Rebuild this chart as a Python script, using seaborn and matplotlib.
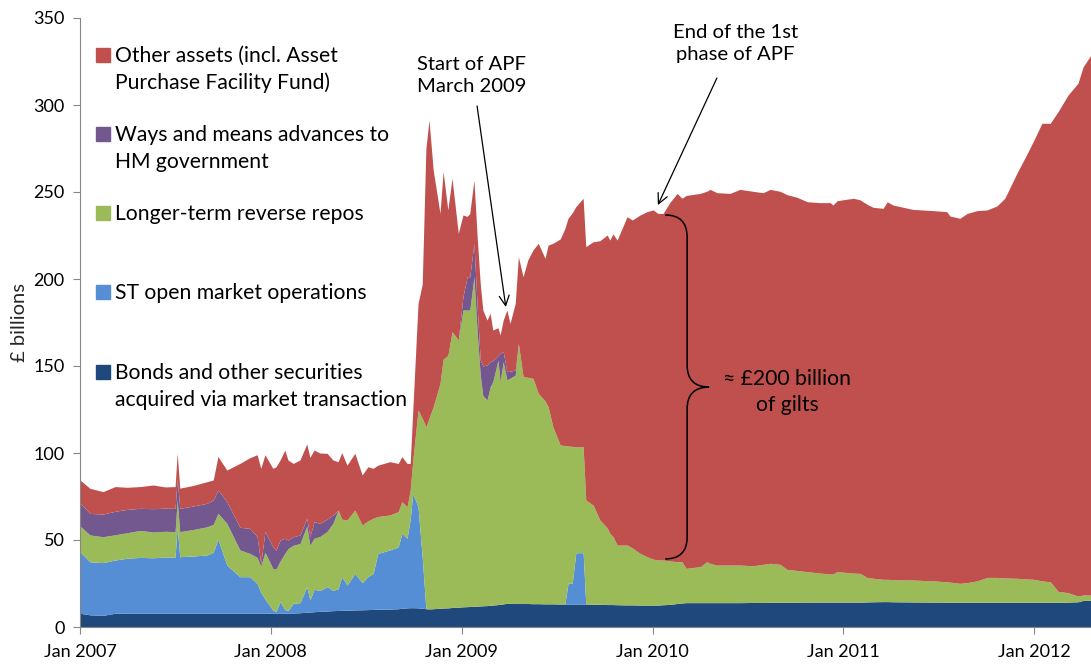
import matplotlib
matplotlib.use("Agg")
import matplotlib.pyplot as plt
import matplotlib.dates as mdates
from matplotlib.path import Path
from matplotlib.patches import PathPatch
import pandas as pd
import seaborn as sns

# weekly-ish balance sheet readings, £ billions
dates = [
    "2007-01-01", "2007-01-20", "2007-02-14", "2007-03-09", "2007-04-01", "2007-04-26", "2007-05-21", "2007-06-13", "2007-07-02", "2007-07-06",
    "2007-07-11", "2007-08-05", "2007-09-01", "2007-09-13", "2007-09-22", "2007-10-09", "2007-11-03", "2007-11-22", "2007-12-06", "2007-12-13",
    "2007-12-21", "2008-01-05", "2008-01-11", "2008-01-19", "2008-01-28", "2008-02-03", "2008-02-13", "2008-02-26", "2008-03-10", "2008-03-16",
    "2008-03-24", "2008-04-04", "2008-04-18", "2008-04-29", "2008-05-09", "2008-05-16", "2008-05-26", "2008-06-10", "2008-06-24", "2008-07-05",
    "2008-07-15", "2008-07-24", "2008-08-16", "2008-09-01", "2008-09-08", "2008-09-18", "2008-09-24", "2008-09-29", "2008-10-09", "2008-10-17",
    "2008-10-24", "2008-10-30", "2008-11-07", "2008-11-20", "2008-11-26", "2008-12-05", "2008-12-13", "2008-12-25", "2009-01-03", "2009-01-11",
    "2009-01-16", "2009-01-24", "2009-01-30", "2009-02-05", "2009-02-10", "2009-02-18", "2009-02-24", "2009-03-01", "2009-03-11", "2009-03-15",
    "2009-03-21", "2009-03-28", "2009-04-03", "2009-04-13", "2009-04-19", "2009-04-28", "2009-05-07", "2009-05-17", "2009-05-27", "2009-06-09",
    "2009-06-15", "2009-06-24", "2009-07-08", "2009-07-17", "2009-07-23", "2009-07-31", "2009-08-07", "2009-08-21", "2009-08-26", "2009-09-09",
    "2009-09-22", "2009-10-06", "2009-10-11", "2009-10-17", "2009-10-25", "2009-11-13", "2009-11-23", "2009-12-08", "2009-12-21", "2010-01-02",
    "2010-01-11", "2010-01-21", "2010-02-03", "2010-02-17", "2010-02-26", "2010-03-06", "2010-04-02", "2010-04-15", "2010-04-21", "2010-05-04",
    "2010-05-29", "2010-06-17", "2010-07-12", "2010-07-31", "2010-08-14", "2010-09-02", "2010-09-15", "2010-10-04", "2010-10-24", "2010-11-17",
    "2010-12-07", "2010-12-12", "2010-12-20", "2011-01-20", "2011-02-02", "2011-02-15", "2011-02-27", "2011-03-18", "2011-03-26", "2011-04-06",
    "2011-05-14", "2011-06-22", "2011-07-18", "2011-07-24", "2011-08-12", "2011-08-26", "2011-09-14", "2011-10-03", "2011-10-22", "2011-11-06",
    "2011-11-29", "2011-12-19", "2012-01-01", "2012-01-16", "2012-02-01", "2012-02-16", "2012-03-06", "2012-03-25", "2012-04-04", "2012-04-19",
]

bonds = [
    7.9, 7.0, 6.7, 7.9, 8.0, 8.0, 8.0, 8.0, 8.0, 8.0,
    8.0, 8.0, 8.0, 8.0, 8.0, 8.0, 8.0, 8.0, 8.0, 8.0,
    8.0, 8.0, 8.0, 8.0, 8.0, 8.0, 8.0, 8.2, 8.5, 8.6,
    8.8, 9.0, 9.2, 9.4, 9.5, 9.6, 9.7, 9.8, 9.9, 10.0,
    10.1, 10.2, 10.3, 10.5, 10.8, 11.0, 11.1, 11.1, 11.0, 10.8,
    10.5, 10.4, 10.5, 10.8, 10.9, 11.0, 11.2, 11.4, 11.6, 11.7,
    11.8, 11.9, 12.0, 12.1, 12.2, 12.3, 12.5, 12.6, 12.9, 13.0,
    13.3, 13.6, 13.6, 13.5, 13.5, 13.5, 13.5, 13.4, 13.4, 13.3,
    13.3, 13.3, 13.2, 13.2, 13.2, 13.2, 13.2, 13.2, 13.2, 13.1,
    13.0, 12.9, 12.9, 12.9, 12.8, 12.7, 12.7, 12.6, 12.6, 12.6,
    12.6, 12.8, 13.0, 13.5, 13.8, 14.0, 14.0, 14.0, 14.0, 14.0,
    14.0, 14.0, 14.1, 14.1, 14.2, 14.2, 14.2, 14.2, 14.3, 14.3,
    14.3, 14.3, 14.3, 14.3, 14.3, 14.4, 14.5, 14.6, 14.6, 14.5,
    14.4, 14.3, 14.2, 14.2, 14.2, 14.2, 14.2, 14.2, 14.2, 14.2,
    14.2, 14.2, 14.2, 14.2, 14.2, 14.2, 14.3, 14.5, 15.3, 15.3,
]

st_omo = [
    35.4, 30.5, 30.3, 30.6, 31.5, 32.0, 31.8, 32.2, 32.2, 49.6,
    32.4, 32.8, 33.4, 35.0, 42.4, 27.6, 20.9, 20.9, 17.0, 12.0,
    8.0, 1.8, 0.8, 6.6, 2.0, 1.4, 5.6, 5.8, 14.7, 6.9,
    12.9, 12.0, 14.0, 11.6, 12.5, 19.3, 14.4, 21.0, 15.6, 19.0,
    20.7, 32.1, 34.0, 35.5, 43.0, 40.0, 50.9, 65.7, 58.1, 29.2,
    0, 0, 0, 0, 0, 0, 0, 0, 0, 0,
    0, 0, 0, 0, 0, 0, 0, 0, 0, 0,
    0, 0, 0, 0, 0, 0, 0, 0, 0, 0,
    0, 0, 0, 0, 11.9, 11.9, 29.5, 29.5, 0, 0,
    0, 0, 0, 0, 0, 0, 0, 0, 0, 0,
    0, 0, 0, 0, 0, 0, 0, 0, 0, 0,
    0, 0, 0, 0, 0, 0, 0, 0, 0, 0,
    0, 0, 0, 0, 0, 0, 0, 0, 0, 0,
    0, 0, 0, 0, 0, 0, 0, 0, 0, 0,
    0, 0, 0, 0, 0, 0, 0, 0, 0, 0,
]

lt_repo = [
    14.7, 15.4, 14.9, 14.5, 14.7, 15.5, 14.8, 14.8, 14.6, 15.4,
    14.4, 15.2, 16.2, 16.0, 14.9, 24.0, 15.4, 13.4, 15.0, 15.0,
    27.0, 23.9, 24.4, 23.4, 32.3, 35.6, 33.4, 34.0, 34.8, 31.5,
    29.3, 31.0, 31.8, 38.6, 45.2, 33.1, 37.4, 36.4, 33.1, 32.0,
    31.7, 21.2, 20.1, 20.3, 18.2, 18.1, 16.7, 19.2, 55.6, 80.0,
    104.5, 109.6, 116.1, 129.2, 143.1, 145.0, 158.5, 153.6, 170.6, 170.5,
    170.4, 189.4, 158.0, 132.9, 120.8, 118.2, 125.5, 128.4, 140.5, 128.0,
    139.2, 128.4, 129.4, 131.3, 149.5, 130.4, 130.0, 129.5, 120.9, 116.7,
    113.3, 101.8, 91.4, 91.1, 78.9, 78.7, 60.9, 60.9, 59.8, 57.0,
    48.5, 44.1, 40.9, 39.1, 34.3, 34.4, 32.8, 29.7, 27.8, 26.4,
    25.9, 25.7, 25.0, 24.0, 23.7, 19.7, 20.7, 23.5, 22.5, 21.6,
    21.6, 21.6, 21.1, 21.9, 22.4, 21.8, 18.9, 18.3, 17.5, 16.7,
    16.2, 16.2, 17.5, 16.7, 16.5, 14.1, 13.5, 12.8, 12.8, 12.7,
    12.6, 12.2, 11.8, 11.6, 10.9, 11.3, 12.3, 14.3, 14.3, 14.0,
    13.8, 13.4, 13.2, 12.3, 11.8, 6.3, 5.4, 3.3, 3.1, 3.1,
]

ways_means = [
    13.4, 12.4, 13.0, 13.5, 13.4, 12.7, 13.4, 13.3, 13.4, 12.4,
    13.4, 13.5, 13.5, 14.0, 13.4, 12.4, 13.0, 14.4, 12.0, 1.5,
    12.0, 12.4, 10.8, 12.0, 8.7, 5.0, 4.9, 4.9, 4.5, 5.0,
    9.5, 7.6, 7.0, 4.8, 0, 0, 0, 0, 0, 0,
    0, 0, 0, 0, 0, 0, 0, 0, 0, 0,
    0, 0, 0, 0, 0, 0, 0, 0, 7.8, 19.1,
    19.1, 19.2, 15.0, 8.4, 17.0, 20.1, 14.5, 12.0, 2.6, 16.3,
    5.7, 4.7, 4.0, 2.9, 0, 0, 0, 0, 0, 0,
    0, 0, 0, 0, 0, 0, 0, 0, 0, 0,
    0, 0, 0, 0, 0, 0, 0, 0, 0, 0,
    0, 0, 0, 0, 0, 0, 0, 0, 0, 0,
    0, 0, 0, 0, 0, 0, 0, 0, 0, 0,
    0, 0, 0, 0, 0, 0, 0, 0, 0, 0,
    0, 0, 0, 0, 0, 0, 0, 0, 0, 0,
    0, 0, 0, 0, 0, 0, 0, 0, 0, 0,
]

other = [
    13.1, 14.4, 12.9, 14.2, 12.7, 12.5, 13.6, 12.2, 12.5, 14.4,
    11.6, 11.8, 12.4, 11.5, 19.3, 18.2, 36.7, 40.6, 47.0, 54.7,
    44.0, 45.1, 48.0, 46.0, 50.7, 46.0, 42.1, 43.1, 42.7, 45.5,
    41.2, 40.4, 37.8, 31.6, 27.8, 38.2, 31.5, 32.6, 28.8, 31.1,
    28.7, 29.5, 30.6, 27.7, 25.9, 24.9, 15.3, 29.0, 61.3, 77.0,
    160.0, 171.4, 136.0, 97.7, 107.7, 83.7, 88.2, 61.3, 46.8, 34.7,
    36.4, 36.4, 40.0, 44.1, 32.2, 25.8, 27.8, 17.7, 16.0, 10.5,
    18.2, 35.5, 27.5, 38.3, 49.8, 57.4, 67.4, 73.8, 86.2, 81.9,
    92.9, 105.4, 118.4, 124.7, 130.9, 134.2, 138.0, 142.8, 145.6, 151.3,
    160.5, 168.3, 168.6, 173.9, 175.3, 188.7, 188.4, 194.5, 198.3, 200.7,
    199.2, 199.2, 206.0, 211.7, 208.9, 214.3, 214.5, 213.0, 215.0, 214.0,
    213.6, 215.9, 215.2, 213.6, 214.9, 214.4, 215.4, 214.5, 212.6, 212.9,
    213.4, 212.0, 213.2, 215.4, 214.7, 214.5, 213.2, 213.2, 217.0, 215.3,
    213.0, 212.8, 212.7, 210.4, 209.8, 212.2, 212.8, 211.2, 213.5, 218.2,
    232.7, 244.6, 252.6, 263.0, 263.5, 275.7, 286.0, 294.7, 303.6, 310.3,
]

series_names = [
    "Bonds and other securities\nacquired via market transaction",
    "ST open market operations",
    "Longer-term reverse repos",
    "Ways and means advances to\nHM government",
    "Other assets (incl. Asset\nPurchase Facility Fund)",
]
series_colors = ["#1F497D", "#558ED5", "#9BBB59", "#72588F", "#C0504D"]

year_ticks = ["2007-01-01", "2008-01-01", "2009-01-01", "2010-01-01", "2011-01-01", "2012-01-01"]
year_labels = ["Jan 2007", "Jan 2008", "Jan 2009", "Jan 2010", "Jan 2011", "Jan 2012"]

sns.set_theme(style="white")
plt.rcParams["font.family"] = ["Lato", "DejaVu Sans"]
plt.rcParams["text.color"] = "black"

df = pd.DataFrame(
    {"bonds": bonds, "st": st_omo, "ltrr": lt_repo, "wm": ways_means, "other": other},
    index=pd.to_datetime(dates),
)

fig = plt.figure(figsize=(10.91, 6.64), dpi=100)
ax = fig.add_axes([80 / 1091, 37 / 664, 1011 / 1091, 609 / 664])

ax.stackplot(df.index, df.T.values, colors=series_colors, linewidth=0)

ax.set_xlim(pd.Timestamp("2007-01-01"), pd.Timestamp("2012-04-19"))
ax.set_ylim(0, 350)
ax.set_yticks(range(0, 351, 50))
ax.set_xticks(pd.to_datetime(year_ticks))
ax.set_xticklabels(year_labels)
ax.set_ylabel("£ billions", fontsize=14.5)
ax.yaxis.set_label_coords(-0.051, 0.5)

sns.despine(ax=ax)
for sp in ["left", "bottom"]:
    ax.spines[sp].set_color("#868686")
    ax.spines[sp].set_linewidth(0.8)
ax.tick_params(axis="both", bottom=True, left=True, direction="out", length=5,
               width=0.8, color="#868686", labelsize=13, labelcolor="black")
ax.tick_params(axis="y", pad=6)
ax.tick_params(axis="x", pad=7)

# legend, drawn by hand like the Excel one (top entry = top layer)
leg_y = [0.940, 0.8098, 0.6798, 0.5501, 0.4187]
line_step = 27 / 609
for lab, col, yy in zip(series_names[::-1], series_colors[::-1], leg_y):
    ax.plot([0.0223], [yy], marker="s", ms=9.5, color=col, ls="none",
            transform=ax.transAxes, clip_on=False)
    for i, part in enumerate(lab.split("\n")):
        ax.text(0.0346, yy - 0.0115 - i * line_step, part, transform=ax.transAxes,
                fontsize=15.2, va="baseline", ha="left")


def d(s):
    return mdates.date2num(pd.Timestamp(s))


arrow_kw = dict(arrowstyle="->", lw=0.9, color="black", shrinkA=0, shrinkB=0, mutation_scale=18)

ax.text(d("2009-01-20"), 317, "Start of APF\nMarch 2009", ha="center", va="center",
        fontsize=14.6, linespacing=1.3)
ax.annotate("", xy=(d("2009-03-26"), 183.9), xytext=(d("2009-01-30"), 299.4), arrowprops=arrow_kw)

ax.text(d("2010-06-08"), 335.6, "End of the 1st\nphase of APF", ha="center", va="center",
        fontsize=14.6, linespacing=1.35)
ax.annotate("", xy=(d("2010-01-11"), 242.5), xytext=(d("2010-05-04"), 315.5), arrowprops=arrow_kw)

# curly brace around the gilt purchases
x0, x1, x2 = d("2010-01-25"), d("2010-03-08"), d("2010-04-19")
verts = [(x0, 236.8), (x1, 236.8), (x1, 224.1),
         (x1, 150.6),
         (x1, 137.9), (x2, 137.9),
         (x1, 137.9), (x1, 125.3),
         (x1, 51.7),
         (x1, 39.1), (x0, 39.1)]
codes = [Path.MOVETO, Path.CURVE3, Path.CURVE3,
         Path.LINETO,
         Path.CURVE3, Path.CURVE3,
         Path.CURVE3, Path.CURVE3,
         Path.LINETO,
         Path.CURVE3, Path.CURVE3]
ax.add_patch(PathPatch(Path(verts, codes), fill=False, lw=1.1, edgecolor="black"))

ax.text(d("2010-09-15"), 135, "≈ £200 billion\nof gilts", ha="center", va="center",
        fontsize=15.2, linespacing=1.35)

fig.savefig("out.png", dpi=100)
